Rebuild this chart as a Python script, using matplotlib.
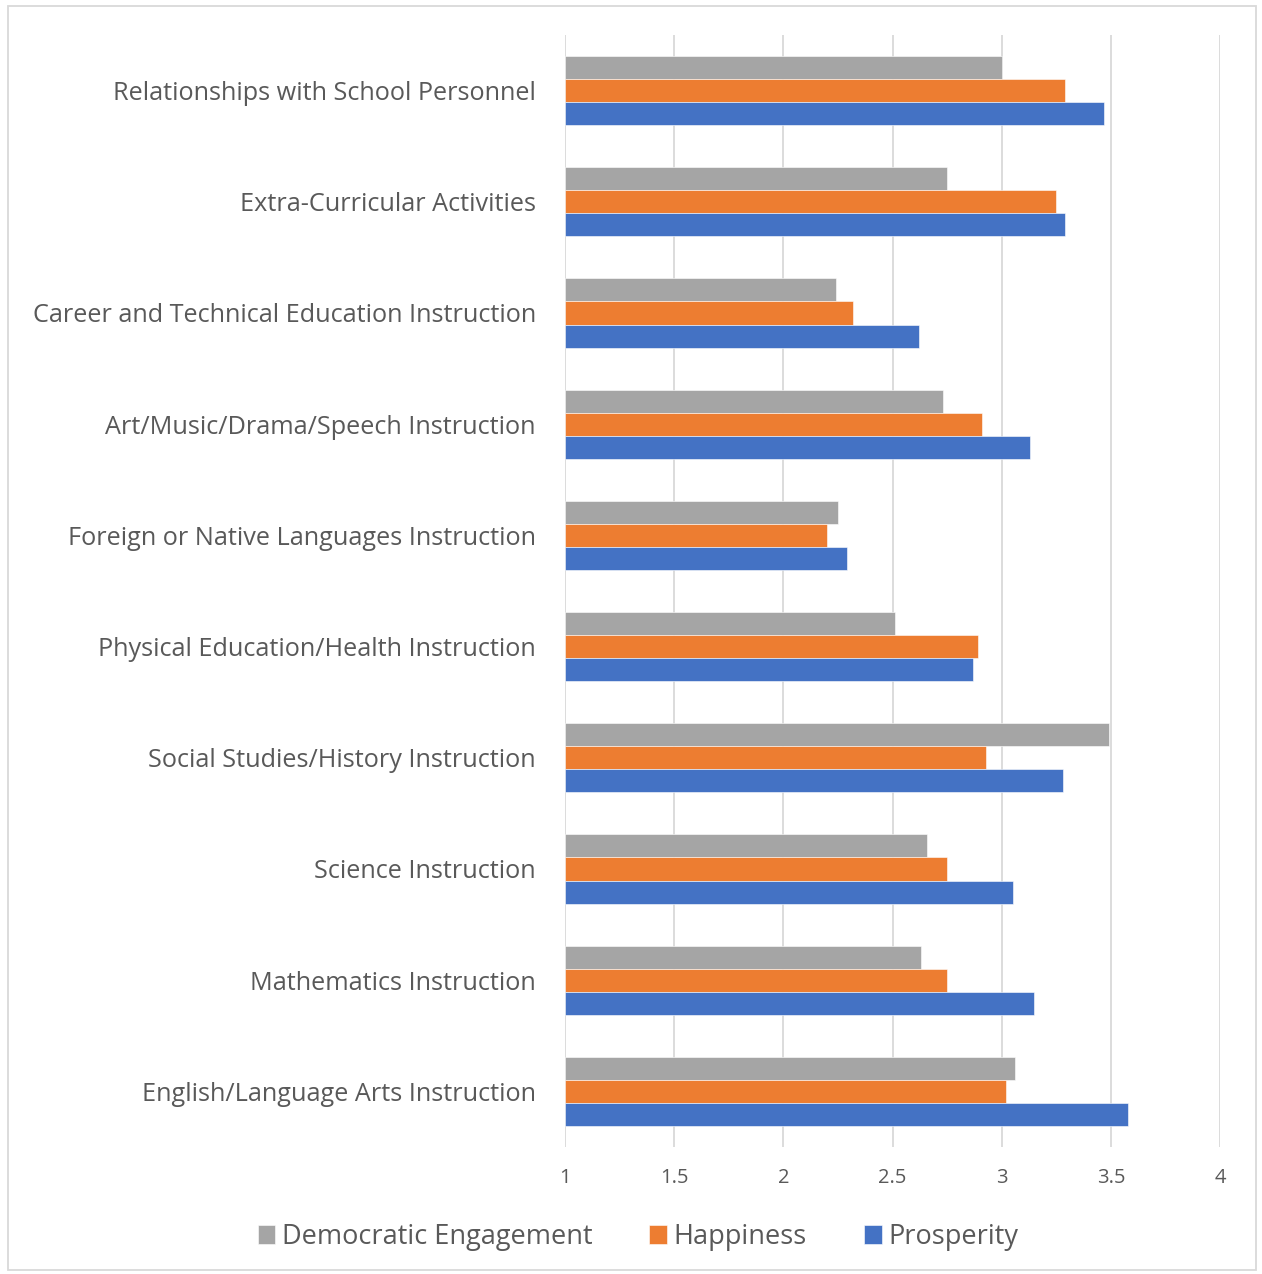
import numpy as np
import matplotlib.pyplot as plt
from matplotlib.patches import Rectangle

categories = ["English/Language Arts Instruction", "Mathematics Instruction", "Science Instruction",
              "Social Studies/History Instruction", "Physical Education/Health Instruction",
              "Foreign or Native Languages Instruction", "Art/Music/Drama/Speech Instruction",
              "Career and Technical Education Instruction", "Extra-Curricular Activities",
              "Relationships with School Personnel"]
democratic = [3.06, 2.63, 2.66, 3.49, 2.51, 2.25, 2.73, 2.24, 2.75, 3.00]
happiness = [3.02, 2.75, 2.75, 2.93, 2.89, 2.20, 2.91, 2.32, 3.25, 3.29]
prosperity = [3.58, 3.15, 3.05, 3.28, 2.87, 2.29, 3.13, 2.62, 3.29, 3.47]
series_names = ["Democratic Engagement", "Happiness", "Prosperity"]
colors = ["#A5A5A5", "#ED7D31", "#4472C4"]

plt.rcParams['font.family'] = ['Open Sans', 'DejaVu Sans']
text_c = "#595959"

W, H = 1262, 1274
fig = plt.figure(figsize=(W / 100, H / 100), dpi=100)
ax = fig.add_axes([565 / W, 1 - 1147 / H, 655 / W, (1147 - 35) / H])

y = np.arange(len(categories))
h = 0.207
for off, vals, c, name in zip([h, 0, -h], [democratic, happiness, prosperity], colors, series_names):
    ax.barh(y + off, np.array(vals) - 1, h, left=1, color=c, label=name,
            edgecolor="white", linewidth=0.4, zorder=3)

ax.set_xlim(1, 4)
ax.set_ylim(-0.5, len(categories) - 0.5)
ax.set_xticks(np.arange(1, 4.01, 0.5))
ax.set_xticklabels(["1", "1.5", "2", "2.5", "3", "3.5", "4"])
ax.set_yticks(y)
ax.set_yticklabels(categories)
ax.grid(axis="x", color="#D9D9D9", linewidth=1.3, zorder=0)
for s in ax.spines.values():
    s.set_visible(False)
ax.tick_params(axis="both", length=0, colors=text_c)
ax.tick_params(axis="x", labelsize=14.5, pad=15)
ax.tick_params(axis="y", labelsize=18.2, pad=21)

handles, labels = ax.get_legend_handles_labels()
fig.legend(handles, labels, loc="center", bbox_to_anchor=(638 / W, 1 - 1237 / H), ncol=3,
           frameon=False, fontsize=19.5, labelcolor=text_c, handlelength=0.65, handleheight=0.65,
           handletextpad=0.25, columnspacing=2.1)

fig.add_artist(Rectangle((8 / W, 4 / H), (1256 - 8) / W, (1270 - 6) / H, transform=fig.transFigure,
                         fill=False, edgecolor="#D9D9D9", linewidth=1.3))

fig.savefig("out.png", dpi=100)
